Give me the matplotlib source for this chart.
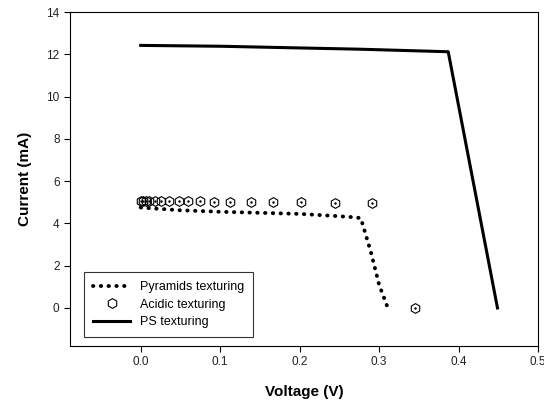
import matplotlib
matplotlib.use("Agg")
import matplotlib.pyplot as plt

plt.rcParams['font.family'] = ['Liberation Sans', 'DejaVu Sans']

# Pyramids texturing (dotted)
pyr_v = [0.0, 0.05, 0.10, 0.15, 0.20, 0.245, 0.265, 0.277, 0.29, 0.30, 0.31]
pyr_i = [4.75, 4.62, 4.55, 4.50, 4.45, 4.35, 4.30, 4.25, 2.6, 1.1, 0.1]

# Acidic texturing (hexagon markers)
acid_v = [0.0, 0.003, 0.007, 0.011, 0.018, 0.026, 0.036, 0.048, 0.060, 0.074,
          0.092, 0.112, 0.139, 0.166, 0.202, 0.244, 0.291, 0.345]
acid_i = [5.08, 5.08, 5.08, 5.08, 5.07, 5.07, 5.06, 5.06, 5.05, 5.04,
          5.03, 5.02, 5.01, 5.0, 4.99, 4.97, 4.95, 0.0]

# PS texturing (solid)
ps_v = [0.0, 0.1, 0.2, 0.276, 0.387, 0.449]
ps_i = [12.42, 12.38, 12.3, 12.24, 12.12, 0.0]

fig = plt.figure(figsize=(5.44, 4.08), dpi=100)
ax = fig.add_axes([70 / 544, 62 / 408, 468 / 544, 334 / 408])

ax.plot(pyr_v, pyr_i, linestyle=(0, (0.1, 1.9)), dash_capstyle='round',
        color='black', linewidth=2.8, label='Pyramids texturing')
ax.plot(acid_v, acid_i, linestyle='none', marker='h', markersize=7,
        markerfacecolor='none', markeredgecolor='black', markeredgewidth=0.8,
        label='Acidic texturing')
ax.plot(acid_v, acid_i, linestyle='none', marker='.', markersize=1.5,
        color='black')
ax.plot(ps_v, ps_i, linestyle='-', color='black', linewidth=2.2,
        label='PS texturing')

ax.set_xlim(-0.089, 0.5)
ax.set_ylim(-1.8, 14)
ax.set_xticks([0.0, 0.1, 0.2, 0.3, 0.4, 0.5])
ax.set_xticklabels(['0.0', '0.1', '0.2', '0.3', '0.4', '0.5'])
ax.set_yticks([0, 2, 4, 6, 8, 10, 12, 14])
ax.tick_params(direction='out', length=4, labelsize=8.5, labelcolor='#222222',
               top=False, right=False)

ax.set_xlabel('Voltage (V)', fontsize=11, fontweight='bold', labelpad=12)
ax.set_ylabel('Current (mA)', fontsize=11, fontweight='bold', labelpad=10)

leg = ax.legend(loc='lower left', bbox_to_anchor=(14 / 468, 9 / 334),
                borderaxespad=0, fontsize=9, frameon=True, fancybox=False,
                edgecolor='black', handlelength=3, labelspacing=0.45,
                borderpad=0.7)
leg.get_frame().set_linewidth(0.8)

fig.savefig('out.png', dpi=100)
